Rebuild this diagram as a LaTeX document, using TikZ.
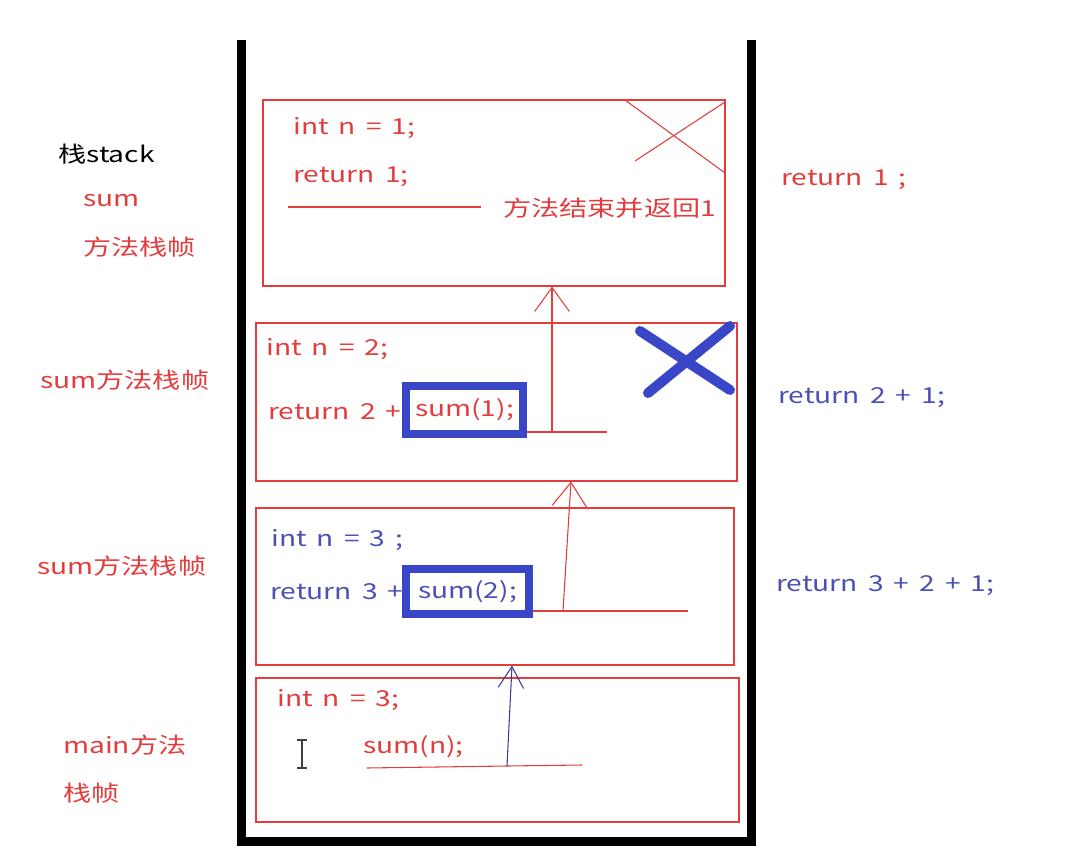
\documentclass[tikz,border=0pt]{standalone}
\usepackage{fontspec}
\setmainfont{Noto Sans CJK SC}[FakeStretch=1.28, WordSpace=1.6]
\usetikzlibrary{fit,arrows.meta,calc}
\definecolor{stackred}{HTML}{E23C3C}
\definecolor{stackblue}{HTML}{4B50B4}
\definecolor{callblue}{HTML}{3A46C8}
\definecolor{arrowblue}{HTML}{3C3CA0}

\begin{document}
\begin{tikzpicture}[
  x=0.75pt, y=-0.75pt,
  font=\fontsize{16.5}{20}\selectfont,
  lbl/.style={anchor=west, inner sep=0pt, text=stackred},
  bluelbl/.style={lbl, text=stackblue},
  frame/.style={rectangle, draw=stackred, line width=0.8pt, inner sep=0pt},
  callbox/.style={rectangle, draw=callblue, line width=6pt, inner sep=0pt},
  redline/.style={draw=stackred, line width=0.8pt},
  redarr/.style={redline, -{Straight Barb[length=18pt, width=26pt]}},
  bluearr/.style={draw=arrowblue, line width=0.8pt, -{Straight Barb[length=16pt, width=19pt]}},
  wall/.style={draw=black, line width=6.75pt, line join=miter},
  cross/.style={draw=callblue, line width=7.5pt, line cap=round},
]
\useasboundingbox (0,0) rectangle (1071,852);

% ---- the stack ----
\draw[wall] (241.5,40) -- (241.5,841) -- (751.5,841) -- (751.5,40);

% ---- frames ----
\node[frame, fit={(263,100) (725,286)}] (f1) {};
\node[frame, fit={(256,323) (737,481)}] (f2) {};
\node[frame, fit={(256,508) (734,665)}] (f3) {};
\node[frame, fit={(256,678) (739,822)}] (f4) {};

% ---- labels on the left ----
\node[lbl, text=black] (stk) at (58,154) {栈stack};
\node[lbl] (lsum) at (83,201) {sum};
\node[lbl] (lfr) at (83,247) {方法栈帧};
\node[lbl] (lsum2) at (40,380) {sum方法栈帧};
\node[lbl] (lsum3) at (37,566) {sum方法栈帧};
\node[lbl] (lmain) at (63,745) {main方法};
\node[lbl] (lmainb) at (63,793) {栈帧};

% ---- labels on the right ----
\node[lbl] (ret1) at (781,180) {return 1 ;};
\node[bluelbl] (ret2) at (778,398) {return 2 + 1;};
\node[bluelbl] (ret3) at (776,586) {return 3 + 2 + 1;};

% ---- frame sum(1) ----
\node[lbl] (n1) at (293,128) {int n = 1;};
\node[lbl] (r1) at (293,177) {return 1;};
\node[lbl] (done) at (503,208) {方法结束并返回1};
\coordinate (d0) at (288,207);
\draw[redline] (d0) -- (d0 -| 481,0);
\draw[redline] (625,100) -- (725,173);
\draw[redline] (635,161) -- (725,102);

% ---- frame sum(2) ----
\node[lbl] (n2) at (266,349) {int n = 2;};
\node[lbl] (r2) at (268,412) {return 2 +};
\node[callbox, text=stackred, minimum width=87.75pt, minimum height=36pt]
  (c1) at (464.5,410) {sum(1);};
\coordinate (e1) at (607,432);
\coordinate (k1) at (552,432);
\draw[redline] (c1.east |- e1) -- (e1);
\draw[redarr] (k1) -- (k1 |- f1.south);
\draw[cross] (640,331) -- (730,390);
\draw[cross] (648,393) -- (730,326);

% ---- frame sum(3) ----
\node[bluelbl] (n3) at (271,540) {int n = 3 ;};
\node[bluelbl] (r3) at (270,592) {return 3 +};
\node[callbox, text=stackblue, minimum width=92.25pt, minimum height=33.75pt]
  (c2) at (467.5,591.5) {sum(2);};
\coordinate (e2) at (688,611);
\coordinate (k2) at (563,611);
\draw[redline] (c2.east |- e2) -- (e2);
\draw[redarr] (k2) -- ($(k2 |- f2.south)+(8,0)$);

% ---- main frame ----
\node[lbl] (n4) at (277,700) {int n = 3;};
\node[lbl] (sumn) at (363,747) {sum(n);};
\coordinate (u0) at (367,768);
\coordinate (k3) at (507,766);
\coordinate (e3) at (582,765);
\draw[redline] (u0) -- (k3) -- (e3);
\draw[bluearr] (k3) -- ($(k3 |- f3.south)+(5,0)$);

% ---- text cursor ----
\draw[draw=black!75, line width=1pt] (297,740) -- (307,740) (302,740) -- (302,768)
  (297,768) -- (307,768);

\end{tikzpicture}
\end{document}
